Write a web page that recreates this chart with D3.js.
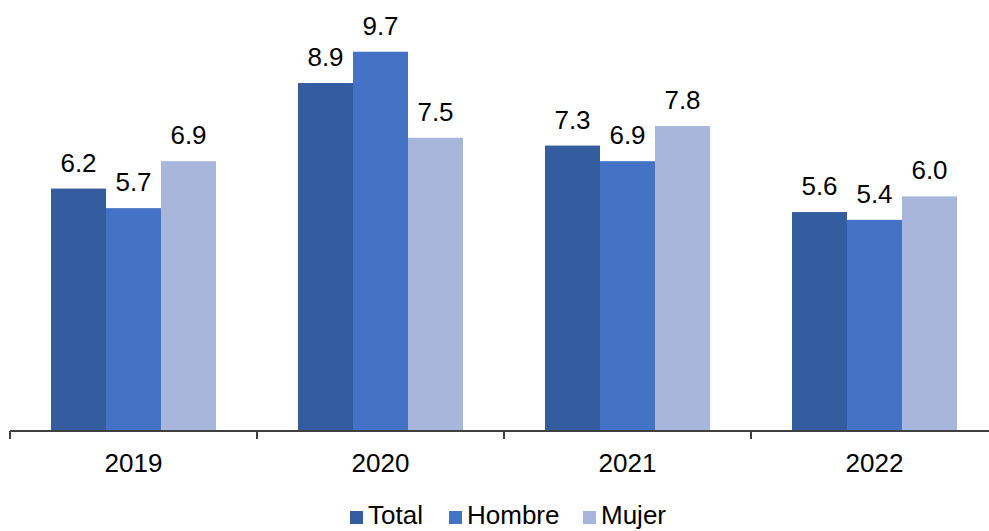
<!DOCTYPE html>
<html>
<head>
<meta charset="utf-8">
<script src="https://cdn.jsdelivr.net/npm/d3@7/dist/d3.min.js"></script>
<style>
  body { margin: 0; background: #fff; }
  text { font-family: "Liberation Sans", Arial, sans-serif; fill: #000; }
</style>
</head>
<body>
<svg id="chart" width="989" height="531"></svg>
<script>
const years = ['2019', '2020', '2021', '2022'];
const series = ['Total', 'Hombre', 'Mujer'];
const total = [6.2, 8.9, 7.3, 5.6];
const hombre = [5.7, 9.7, 6.9, 5.4];
const mujer = [6.9, 7.5, 7.8, 6.0];
const colors = ['#345DA0', '#4472C4', '#A8B6DB'];

const values = [total, hombre, mujer];
const data = years.map((yr, i) => ({year: yr, vals: series.map((s, j) => ({key: s, value: values[j][i]}))}));

const svg = d3.select('#chart');
const baseY = 431;

// x: one band per year, edges are the tick marks
const x = d3.scaleBand()
    .domain(years)
    .range([10, 998]);

const xInner = d3.scaleBand()
    .domain(series)
    .range([41, x.bandwidth() - 41]);

const y = d3.scaleLinear()
    .domain([0, 10])
    .range([baseY, 40]);

// bars
const groups = svg.selectAll('.grp')
    .data(data)
    .enter()
    .append('g')
    .attr('transform', d => 'translate(' + x(d.year) + ',0)');

groups.selectAll('rect')
    .data(d => d.vals)
    .enter()
    .append('rect')
    .attr('x', d => xInner(d.key))
    .attr('width', xInner.bandwidth())
    .attr('y', d => y(d.value))
    .attr('height', d => baseY - y(d.value))
    .attr('fill', (d, i) => colors[i]);

// value labels
groups.selectAll('.lbl')
    .data(d => d.vals)
    .enter()
    .append('text')
    .attr('x', d => xInner(d.key) + xInner.bandwidth() / 2)
    .attr('y', d => y(d.value) - 17)
    .attr('text-anchor', 'middle')
    .style('font-size', '26px')
    .text(d => d.value.toFixed(1));

// x axis
const axis = svg.append('g');
axis.append('line')
    .attr('x1', 10).attr('x2', 998)
    .attr('y1', baseY).attr('y2', baseY)
    .attr('stroke', '#404040')
    .attr('stroke-width', 2);

const edges = years.map(d => x(d)).concat([x(years[years.length - 1]) + x.bandwidth()]);
axis.selectAll('.tick')
    .data(edges)
    .enter()
    .append('line')
    .attr('x1', d => d).attr('x2', d => d)
    .attr('y1', baseY).attr('y2', baseY + 8)
    .attr('stroke', '#404040')
    .attr('stroke-width', 2);

axis.selectAll('.yl')
    .data(years)
    .enter()
    .append('text')
    .attr('x', d => x(d) + x.bandwidth() / 2)
    .attr('y', 472)
    .attr('text-anchor', 'middle')
    .style('font-size', '26px')
    .text(d => d);

// legend
const legendX = [350, 449, 583];
const legend = svg.selectAll('.leg')
    .data(series)
    .enter()
    .append('g')
    .attr('transform', (d, i) => 'translate(' + legendX[i] + ',0)');
legend.append('rect')
    .attr('x', 0).attr('y', 511)
    .attr('width', 13).attr('height', 13)
    .attr('fill', (d, i) => colors[i]);
legend.append('text')
    .attr('x', 18).attr('y', 524)
    .style('font-size', '26px')
    .text(d => d);
</script>
</body>
</html>
